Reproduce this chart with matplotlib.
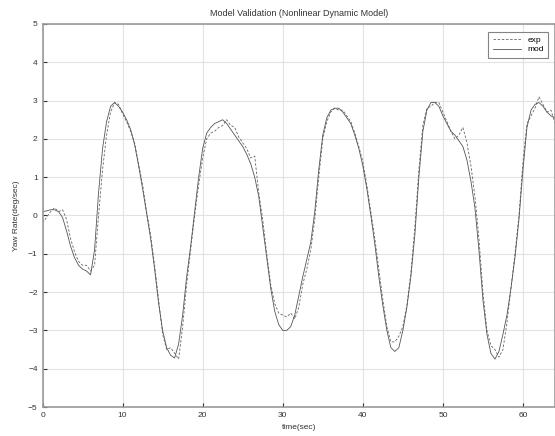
import numpy as np
import matplotlib
matplotlib.use("Agg")
import matplotlib.pyplot as plt

plt.rcParams['font.family'] = ['Liberation Sans', 'DejaVu Sans']

# sample times (sec)
time = np.arange(0, 64.5, 0.5)

# measured yaw rate (dashed)
exp_vals = [-0.2, -0.05, 0.1, 0.2, 0.1, 0.15, -0.1, -0.6, -0.95, -1.2,
            -1.3, -1.3, -1.45, -1.3, 0.0, 1.2, 2.1, 2.7, 2.95, 2.9,
            2.65, 2.45, 2.2, 1.9, 1.35, 0.8, 0.1, -0.5, -1.3, -2.2,
            -3.1, -3.5, -3.45, -3.6, -3.75, -2.9, -1.8, -0.9, 0.0, 0.8,
            1.5, 2.0, 2.15, 2.2, 2.3, 2.35, 2.5, 2.35, 2.3, 2.05,
            1.9, 1.75, 1.5, 1.55, 0.6, -0.1, -1.0, -1.8, -2.3, -2.55,
            -2.6, -2.65, -2.55, -2.7, -2.4, -1.8, -1.4, -0.9, -0.1, 1.0,
            2.0, 2.45, 2.7, 2.8, 2.75, 2.75, 2.6, 2.45, 2.15, 1.8,
            1.4, 0.8, 0.1, -0.6, -1.4, -2.2, -2.9, -3.3, -3.3, -3.15,
            -2.9, -2.35, -1.5, -0.3, 1.2, 2.35, 2.8, 2.85, 2.95, 2.95,
            2.7, 2.45, 2.2, 2.0, 2.1, 2.3, 1.9, 1.3, 0.5, -0.6,
            -2.0, -3.0, -3.4, -3.5, -3.7, -3.5, -2.8, -1.9, -1.0, 0.0,
            1.4, 2.4, 2.6, 2.8, 3.1, 2.9, 2.7, 2.75, 2.4]

# model yaw rate (solid)
mod_vals = [0.1, 0.12, 0.15, 0.15, 0.1, -0.05, -0.4, -0.8, -1.1, -1.3,
            -1.4, -1.45, -1.55, -0.9, 0.6, 1.75, 2.45, 2.85, 2.95, 2.85,
            2.7, 2.5, 2.25, 1.85, 1.3, 0.7, 0.05, -0.6, -1.4, -2.3,
            -3.0, -3.45, -3.65, -3.72, -3.35, -2.6, -1.6, -0.8, 0.1, 1.0,
            1.75, 2.15, 2.3, 2.4, 2.45, 2.5, 2.4, 2.25, 2.1, 1.95,
            1.8, 1.6, 1.35, 1.0, 0.5, -0.3, -1.1, -1.9, -2.5, -2.85,
            -3.0, -3.0, -2.9, -2.6, -2.1, -1.6, -1.15, -0.7, 0.1, 1.2,
            2.1, 2.55, 2.75, 2.8, 2.8, 2.7, 2.55, 2.4, 2.1, 1.75,
            1.3, 0.7, 0.0, -0.75, -1.6, -2.35, -3.0, -3.45, -3.55, -3.45,
            -3.0, -2.4, -1.6, -0.5, 1.0, 2.2, 2.75, 2.95, 2.95, 2.85,
            2.6, 2.4, 2.2, 2.1, 1.95, 1.8, 1.45, 0.9, 0.2, -0.9,
            -2.2, -3.1, -3.6, -3.75, -3.55, -3.1, -2.6, -1.9, -1.1, -0.1,
            1.2, 2.3, 2.75, 2.9, 2.95, 2.85, 2.7, 2.6, 2.55]

x_ticks = [0, 10, 20, 30, 40, 50, 60]
y_ticks = [-5, -4, -3, -2, -1, 0, 1, 2, 3, 4, 5]

fig = plt.figure(figsize=(5.55, 4.36), dpi=100)
ax = fig.add_axes([0.0766, 0.0665, 0.9234, 0.8785])

ax.plot(time, exp_vals, color='#666666', lw=0.6, ls=(0, (3, 2)), label='exp')
ax.plot(time, mod_vals, color='#555555', lw=0.6, label='mod')

ax.set_xlim(0, 64)
ax.set_ylim(-5, 5)
ax.set_xticks(x_ticks)
ax.set_yticks(y_ticks)
ax.grid(True, color='#e2e2e2', lw=0.8)
ax.tick_params(direction='in', length=3, labelsize=6, colors='#333333')
for s in ax.spines.values():
    s.set_color('#999999')
    s.set_linewidth(1.2)

ax.set_title('Model Validation (Nonlinear Dynamic Model)', fontsize=6.5, pad=6, color='#333333')
ax.set_xlabel('time(sec)', fontsize=6, color='#333333', labelpad=4)
ax.set_ylabel('Yaw Rate(deg/sec)', fontsize=6, color='#333333', labelpad=6)

leg = ax.legend(loc='upper right', fontsize=6, frameon=True, fancybox=False,
                handlelength=3.4, borderpad=0.5, labelspacing=0.2,
                bbox_to_anchor=(0.995, 0.99))
leg.get_frame().set_edgecolor('#666666')
leg.get_frame().set_linewidth(0.8)

fig.savefig('out.png', dpi=100)
